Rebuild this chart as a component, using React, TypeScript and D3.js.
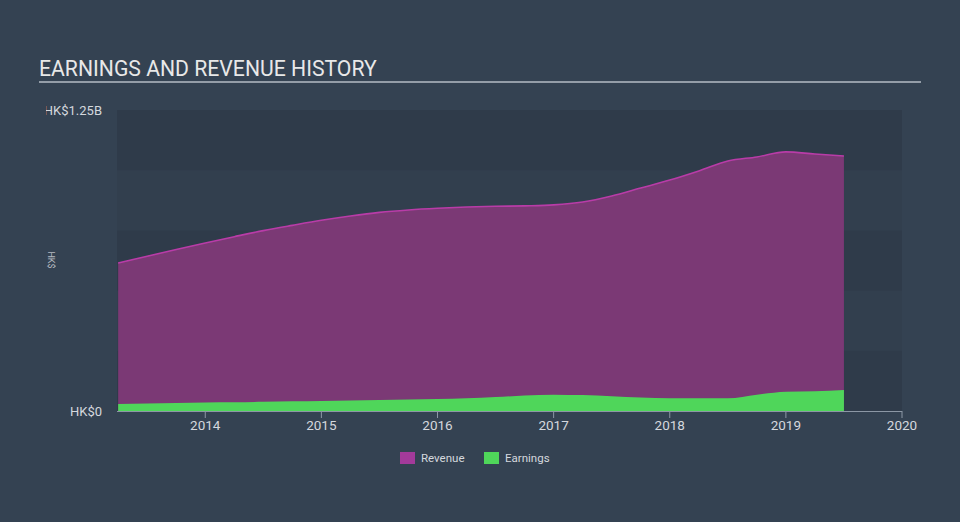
import { area, curveMonotoneX, line, scaleLinear } from "d3";

const quarters = [
  2013.25, 2013.5, 2013.75, 2014, 2014.25, 2014.5, 2014.75, 2015, 2015.25, 2015.5, 2015.75, 2016, 2016.25,
  2016.5, 2016.75, 2017, 2017.25, 2017.5, 2017.75, 2018, 2018.25, 2018.5, 2018.75, 2019, 2019.25, 2019.5
];
// billions HKD
const revenue = [
  0.615, 0.643, 0.671, 0.698, 0.724, 0.749, 0.771, 0.792, 0.81, 0.825, 0.835, 0.842, 0.847, 0.85, 0.852,
  0.856, 0.868, 0.893, 0.926, 0.959, 0.997, 1.038, 1.055, 1.076, 1.067, 1.059
];
const earnings = [
  0.029, 0.031, 0.033, 0.035, 0.036, 0.038, 0.04, 0.042, 0.044, 0.046, 0.048, 0.05, 0.053, 0.058, 0.064,
  0.068, 0.066, 0.061, 0.056, 0.053, 0.053, 0.053, 0.068, 0.08, 0.082, 0.087
];
const yearTicks = [2014, 2015, 2016, 2017, 2018, 2019, 2020];
const bandEdges = [0, 0.25, 0.5, 0.75, 1, 1.25];

const WIDTH = 960;
const HEIGHT = 522;
const PLOT_LEFT = 117;
const PLOT_RIGHT = 902;
const PLOT_TOP = 110;
const PLOT_BOTTOM = 411;
const BG = "#344252";
const REVENUE_FILL = "#7b3975";
const REVENUE_LINE = "#b93ca8";
const EARNINGS_FILL = "#4fd65a";
const FONT = "Roboto, 'Noto Sans', sans-serif";

export default function App() {
  const x = scaleLinear().domain([2013.24, 2020]).range([PLOT_LEFT, PLOT_RIGHT]);
  const y = scaleLinear().domain([0, 1.25]).range([PLOT_BOTTOM, PLOT_TOP]);

  const revArea = area<number>()
    .x((_d, i) => x(quarters[i]))
    .y0(y(0))
    .y1((d) => y(d))
    .curve(curveMonotoneX)(revenue);
  const revLine = line<number>()
    .x((_d, i) => x(quarters[i]))
    .y((d) => y(d))
    .curve(curveMonotoneX)(revenue);
  const earnArea = area<number>()
    .x((_d, i) => x(quarters[i]))
    .y0(y(0))
    .y1((d) => y(d))
    .curve(curveMonotoneX)(earnings);

  return (
    <svg
      width={WIDTH}
      height={HEIGHT}
      style={{ position: "absolute", left: 0, top: 0, display: "block" }}
      fontFamily={FONT}
    >
      <defs>
        <clipPath id="label-clip">
          <rect x={46} y={0} width={WIDTH} height={HEIGHT} />
        </clipPath>
      </defs>
      <rect width={WIDTH} height={HEIGHT} fill={BG} />
      <text x={39} y={76} fill="#e8e8e8" fontSize={21.2}>
        EARNINGS AND REVENUE HISTORY
      </text>
      <line x1={39} x2={921} y1={82} y2={82} stroke="#b5bcc6" strokeWidth={1.5} />

      {bandEdges.slice(0, -1).map((v, i) => (
        <rect
          key={v}
          x={PLOT_LEFT}
          width={PLOT_RIGHT - PLOT_LEFT}
          y={y(bandEdges[i + 1])}
          height={y(v) - y(bandEdges[i + 1])}
          fill={i % 2 === 0 ? "#2f3b4a" : "#323f4e"}
        />
      ))}

      <path d={revArea ?? ""} fill={REVENUE_FILL} />
      <path d={revLine ?? ""} fill="none" stroke={REVENUE_LINE} strokeWidth={1.6} />
      <path d={earnArea ?? ""} fill={EARNINGS_FILL} />

      <line x1={PLOT_LEFT} x2={PLOT_RIGHT} y1={PLOT_BOTTOM + 0.5} y2={PLOT_BOTTOM + 0.5} stroke="#8c97a5" />
      {yearTicks.map((t) => (
        <g key={t}>
          <line x1={x(t)} x2={x(t)} y1={PLOT_BOTTOM} y2={PLOT_BOTTOM + 7} stroke="#8c97a5" />
          <text x={x(t)} y={430} fill="#d4d8de" fontSize={13.5} textAnchor="middle">
            {t}
          </text>
        </g>
      ))}

      <text
        x={102}
        y={y(1.25) + 5}
        fill="#d4d8de"
        fontSize={13}
        textAnchor="end"
        clipPath="url(#label-clip)"
      >
        HK$1.25B
      </text>
      <text x={102} y={y(0) + 5} fill="#d4d8de" fontSize={13} textAnchor="end">
        HK$0
      </text>
      <text
        transform="translate(48,260) rotate(90)"
        fill="#d4d8de"
        fontSize={9}
        textAnchor="middle"
        opacity={0.8}
      >
        HK$
      </text>

      <rect x={400} y={452} width={15} height={12} fill="#a33a9a" />
      <text x={421} y={462} fill="#d4d8de" fontSize={11.5}>
        Revenue
      </text>
      <rect x={484} y={452} width={15} height={12} fill={EARNINGS_FILL} />
      <text x={505} y={462} fill="#d4d8de" fontSize={11.5}>
        Earnings
      </text>
    </svg>
  );
}
